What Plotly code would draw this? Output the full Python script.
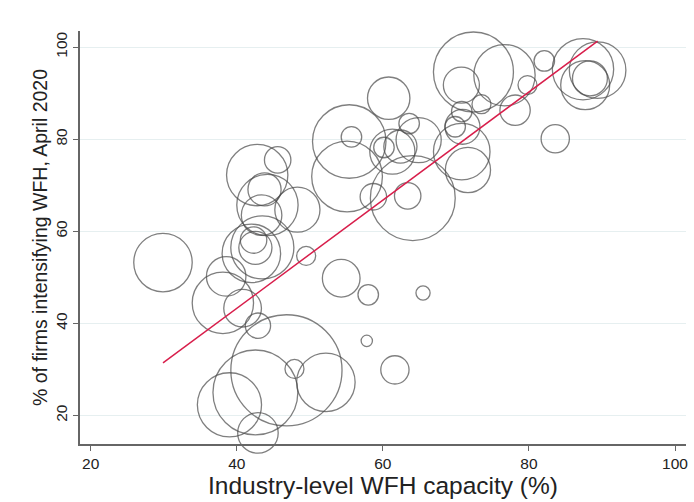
import plotly.graph_objects as go

# Industry-level data
wfh_capacity = [29.9, 42.8, 45.6, 43.8, 44.2, 43.4, 48.3, 43.5, 42.0, 42.3,
                42.55, 49.5, 38.55, 38.1, 40.8, 42.9, 46.8, 47.9, 52.2, 42.55,
                39.0, 42.9, 54.3, 58.0, 65.5, 57.8, 61.65, 60.8, 55.4, 55.7,
                55.1, 58.7, 64.1, 63.4, 60.15, 61.3, 62.4, 64.9, 63.6, 70.8,
                71.65, 70.8, 69.9, 70.9, 72.4, 70.75, 73.5, 76.65, 79.8, 82.1,
                78.1, 83.6, 87.4, 89.4, 87.7, 88.35]
pct_firms_wfh = [53.2, 72.2, 75.5, 69.1, 65.7, 63.5, 64.7, 56.5, 55.2, 58.1,
                 56.4, 54.65, 50.2, 44.45, 43.3, 39.5, 29.8, 30.1, 27.2, 25.0,
                 22.3, 16.2, 49.8, 46.2, 46.6, 36.2, 29.9, 88.9, 79.5, 80.5,
                 71.9, 67.5, 67.2, 67.7, 78.2, 77.3, 78.4, 79.8, 83.4, 77.3,
                 73.3, 86.0, 82.7, 82.7, 94.6, 91.75, 87.6, 93.9, 91.75, 97.0,
                 86.3, 80.1, 95.2, 95.0, 91.75, 93.2]
weight = [17.1, 18.8, 3.5, 5.5, 18.8, 8.2, 10.2, 19.9, 17.1, 3.5,
          5.5, 1.8, 7.8, 18.8, 7.1, 3.2, 61.8, 1.8, 17.1, 36.0,
          20.6, 8.2, 7.1, 2.1, 1.0, 0.64, 4.0, 9.0, 27.0, 2.1,
          25.0, 3.5, 36.0, 3.5, 2.1, 10.2, 5.5, 10.2, 2.1, 16.0,
          10.2, 2.1, 2.1, 6.1, 32.0, 6.5, 1.8, 18.8, 1.8, 2.1,
          4.6, 4.0, 18.8, 16.0, 12.0, 6.1]

# Fitted line endpoints
fit_x = [29.9, 89.4]
fit_y = [31.4, 101.3]

x_ticks = [20, 40, 60, 80, 100]
y_ticks = [20, 40, 60, 80, 100]

fig = go.Figure()
fig.add_trace(go.Scatter(
    x=wfh_capacity, y=pct_firms_wfh, mode="markers",
    marker=dict(size=weight, sizemode="area", sizeref=0.01,
                color="rgba(0,0,0,0)",
                line=dict(color="#4a4a4a", width=1.3)),
    cliponaxis=False, showlegend=False, hoverinfo="x+y"))
fig.add_trace(go.Scatter(
    x=fit_x, y=fit_y, mode="lines",
    line=dict(color="#d81e4b", width=1.5),
    showlegend=False, hoverinfo="skip"))

axis_font = dict(family="Liberation Sans, Arial, sans-serif", size=15.5, color="#222")
fig.update_layout(
    width=694, height=502,
    margin=dict(l=80, r=6, t=31, b=58),
    paper_bgcolor="white", plot_bgcolor="white",
    font=dict(family="Liberation Sans, Arial, sans-serif", color="#222"),
    xaxis=dict(range=[18.54, 101.5], tickvals=x_ticks, ticks="outside",
               ticklen=5, tickcolor="#666", tickwidth=1.2,
               showline=True, linecolor="#666", linewidth=1.5,
               showgrid=False, zeroline=False, tickfont=axis_font,
               title=dict(text="Industry-level WFH capacity (%)",
                          font=dict(size=24.5, color="#222"), standoff=2)),
    yaxis=dict(range=[13.8, 103.5], tickvals=y_ticks, ticks="outside",
               ticklen=5, tickcolor="#666", tickwidth=1.2, tickangle=-90,
               showline=True, linecolor="#666", linewidth=1.5,
               showgrid=True, gridcolor="#e6eff0", gridwidth=1,
               zeroline=False, tickfont=axis_font,
               title=dict(text="% of firms intensifying WFH, April 2020",
                          font=dict(size=19.5, color="#222"), standoff=0)),
)

fig.write_html("out.html")
